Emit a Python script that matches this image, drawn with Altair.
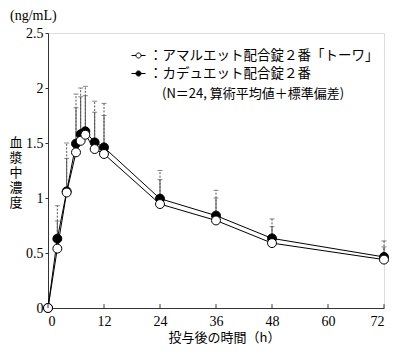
import altair as alt
import pandas as pd

# ---- data ----
times = [0, 2, 4, 6, 7, 8, 10, 12, 24, 36, 48, 72]
open_name = "：アマルエット配合錠２番「トーワ」"
filled_name = "：カデュエット配合錠２番"
open_mean = [0, 0.54, 1.05, 1.415, 1.52, 1.575, 1.445, 1.40, 0.945, 0.796, 0.59, 0.44]
open_upper = [0, 0.79, 1.36, 1.82, 1.92, 1.93, 1.78, 1.75, 1.167, 1.00, 0.74, 0.555]
filled_mean = [0, 0.63, 1.06, 1.494, 1.58, 1.606, 1.505, 1.46, 0.994, 0.84, 0.633, 0.464]
filled_upper = [0, 0.93, 1.50, 1.945, 2.00, 2.015, 1.88, 1.86, 1.25, 1.07, 0.81, 0.61]
x_ticks = [0, 12, 24, 36, 48, 60, 72]
y_ticks = [0, 0.5, 1, 1.5, 2, 2.5]
note = "(N＝24,  算術平均値＋標準偏差)"
unit = "(ng/mL)"
y_title = ["血", "漿", "中", "濃", "度"]
x_title = "投与後の時間（h）"

rows = []
for t, m, u in zip(times, filled_mean, filled_upper):
    rows.append({"time": t, "mean": m, "upper": u, "series": filled_name})
for t, m, u in zip(times, open_mean, open_upper):
    rows.append({"time": t, "mean": m, "upper": u, "series": open_name})
df = pd.DataFrame(rows)
df_err = df[df["time"] > 0]
ticks_df = pd.DataFrame({"t": x_ticks})

SERIF = "Liberation Serif"
JP = "Noto Sans CJK JP"

W, H = 336, 275

xscale = alt.Scale(domain=[0, 72], nice=False, zero=True)
yscale = alt.Scale(domain=[0, 2.5], nice=False)

x_enc = alt.X("time:Q", scale=xscale,
              axis=alt.Axis(values=x_ticks, ticks=False, grid=False, labelFont=SERIF,
                            labelFontSize=14, labelColor="black", labelPadding=6,
                            domainColor="#333", title=x_title, titleFont=JP,
                            titleFontSize=13, titleFontWeight="normal", titleColor="black",
                            titlePadding=3, titleX=176))
y_enc = alt.Y("mean:Q", scale=yscale,
              axis=alt.Axis(values=y_ticks, format="~g", grid=False, tickSize=3,
                            tickColor="#333", domainColor="#333", labelFont=SERIF,
                            labelFontSize=14, labelColor="black", labelPadding=2,
                            title=None))

base = alt.Chart(df)

err_open = alt.Chart(df_err).transform_filter(alt.datum.series == open_name).mark_rule(
    color="#555", strokeWidth=1).encode(x=x_enc, y=y_enc, y2="upper:Q")
err_filled = alt.Chart(df_err).transform_filter(alt.datum.series == filled_name).mark_rule(
    color="#555", strokeWidth=1, strokeDash=[2, 1.5]).encode(x=x_enc, y=y_enc, y2="upper:Q")
caps = alt.Chart(df_err).mark_tick(orient="horizontal", size=5, thickness=1, color="#555").encode(
    x=x_enc, y=alt.Y("upper:Q", scale=yscale))

lines = base.mark_line(color="black", strokeWidth=1).encode(
    x=x_enc, y=y_enc, detail="series:N", order="time:Q")

sym = ("M-1,0H-0.36M0.36,0H1M0.36,0A0.36,0.36,0,1,1,-0.36,0"
       "A0.36,0.36,0,1,1,0.36,0Z")
points = base.mark_point(shape="circle", size=80, stroke="black", strokeWidth=1,
                         opacity=1, fillOpacity=1).encode(
    x=x_enc, y=y_enc,
    fill=alt.Fill("series:N",
                  scale=alt.Scale(domain=[open_name, filled_name], range=["white", "black"]),
                  legend=alt.Legend(orient="none", legendX=83, legendY=15, title=None,
                                    symbolType=sym, symbolSize=196, symbolStrokeColor="black",
                                    symbolStrokeWidth=1, labelFont=JP, labelFontSize=13.5,
                                    labelColor="black", labelOffset=3, rowPadding=4,
                                    padding=0, labelLimit=400)))

xticks = alt.Chart(ticks_df).mark_rule(color="#333", strokeWidth=1).encode(
    x=alt.X("t:Q", scale=xscale), y=alt.datum(0, scale=yscale), y2=alt.datum(0.035))

note_txt = alt.Chart(pd.DataFrame({"s": [note]})).mark_text(
    font=JP, fontSize=13, align="left", baseline="middle", color="black").encode(
    text="s:N", x=alt.value(114), y=alt.value(61))
unit_txt = alt.Chart(pd.DataFrame({"s": [unit]})).mark_text(
    font=SERIF, fontSize=14, align="left", baseline="middle", color="black").encode(
    text="s:N", x=alt.value(-38), y=alt.value(-17))

ytitle_layers = []
for i, ch in enumerate(y_title):
    ytitle_layers.append(
        alt.Chart(pd.DataFrame({"s": [ch]})).mark_text(
            font=JP, fontSize=13, align="center", baseline="middle", color="black").encode(
            text="s:N", x=alt.value(-32), y=alt.value(110 + 15 * i)))

chart = alt.layer(err_open, err_filled, caps, lines, points, xticks,
                  note_txt, unit_txt, *ytitle_layers).properties(
    width=W, height=H,
    autosize=alt.AutoSizeParams(type="none"),
    padding={"left": 40, "top": 25, "right": 8, "bottom": 40},
).configure_view(stroke=None).configure(background="white")

chart.save("out.html", embed_options={"renderer": "svg", "actions": False})
